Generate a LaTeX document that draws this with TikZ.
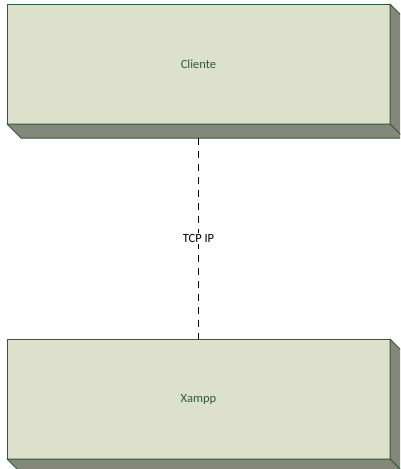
\documentclass[tikz,border=0pt]{standalone}
\usepackage{fontspec}
\setmainfont{Carlito}
\usetikzlibrary{positioning}
\definecolor{nodefill}{HTML}{DDE0CA}
\definecolor{nodeside}{HTML}{85877A}
\definecolor{nodeline}{HTML}{2F5B3C}
\definecolor{nodetext}{HTML}{2F5B3C}

\begin{document}
\begin{tikzpicture}[x=1pt, y=1pt,
    deploy/.style={draw=nodeline, line width=1pt, fill=nodefill, text=nodetext, minimum width=383pt, minimum height=120pt, inner sep=0pt, outer sep=0pt, font=\fontsize{12.5}{15}\selectfont},
    depth/.style={draw=nodeline, line width=1pt, fill=nodeside, line join=round}]
    \useasboundingbox (0,0) rectangle (400,-469);
    \clip (0,0) rectangle (400,-469);

    % Cliente
    \node[deploy] (cliente) at (198.5,-64) {Cliente};
    \filldraw[depth] (cliente.north east) -- ++(14,-14) -- ++(0,-120) -- (cliente.south east) -- cycle;
    \filldraw[depth] (cliente.south west) -- ++(14,-14) -- ++(383,0) -- (cliente.south east) -- cycle;
    \coordinate (cliente-base) at ([yshift=-14pt]cliente.south);

    % Xampp
    \node[deploy, below=215pt of cliente] (xampp) {Xampp};
    \filldraw[depth] (xampp.north east) -- ++(14,-14) -- ++(0,-120) -- (xampp.south east) -- cycle;
    \filldraw[depth] (xampp.south west) -- ++(14,-14) -- ++(383,0) -- (xampp.south east) -- cycle;

    % Link
    \draw[line width=1pt, dash pattern=on 7pt off 6pt] (cliente-base) -- node[fill=white, inner sep=1.5pt, font=\fontsize{12.5}{15}\selectfont] {TCP IP} (xampp.north);
\end{tikzpicture}
\end{document}
